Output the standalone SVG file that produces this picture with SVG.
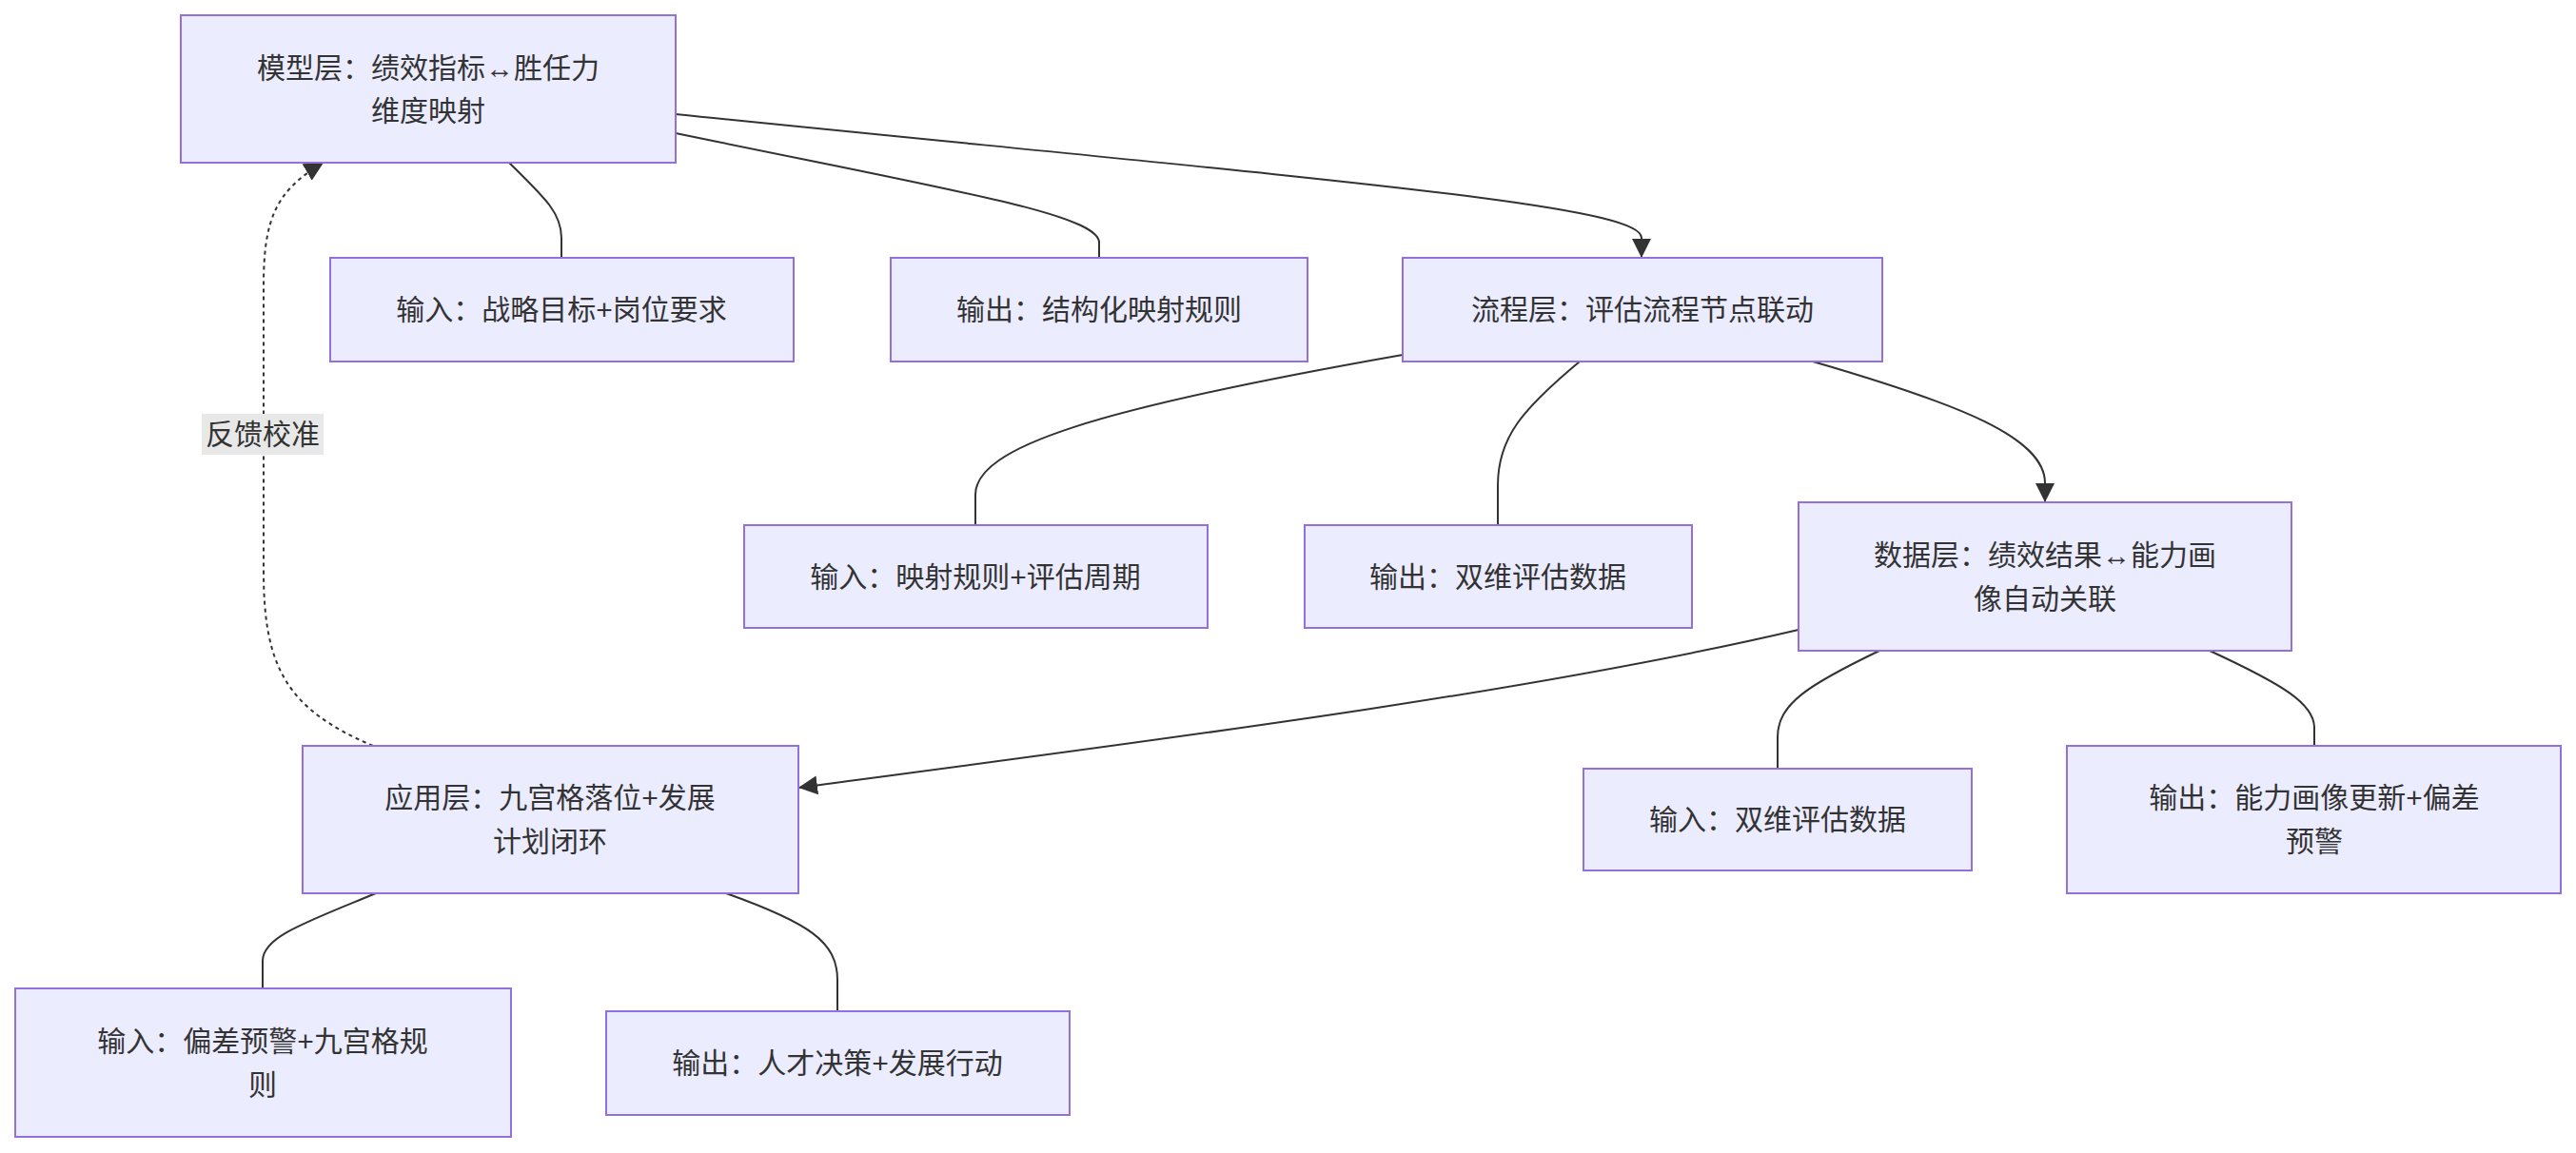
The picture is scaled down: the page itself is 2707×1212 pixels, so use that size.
<svg xmlns="http://www.w3.org/2000/svg" width="2707" height="1212" viewBox="0 0 2707 1212">
<style>
.n rect{fill:#ECECFF;stroke:#9370DB;stroke-width:2}
text{font-family:"Liberation Sans","Noto Sans CJK SC",sans-serif;font-size:30px;fill:#333;text-anchor:middle;dominant-baseline:central}
.e path{fill:none;stroke:#333;stroke-width:2}
.d{stroke-dasharray:4 4}
</style>
<defs><marker id="a" viewBox="0 0 10 10" refX="10" refY="5" markerWidth="9" markerHeight="9" markerUnits="userSpaceOnUse" orient="auto"><path d="M0,0L10,5L0,10z" fill="#333"/></marker>
<marker id="ah" viewBox="0 0 10 10" refX="10" refY="5" markerWidth="20" markerHeight="20" markerUnits="userSpaceOnUse" orient="auto"><path d="M0,0L10,5L0,10z" fill="#333"/></marker></defs>
<rect width="2707" height="1212" fill="#fff"/>
<g class="e" id="edges">
<path d="M535,171 C575,210 590,225 590,250 L590,271"/>
<path d="M710,140 C1000,200 1155,225 1155,255 L1155,271"/>
<path d="M710,120 C1400,190 1725,215 1725,250 L1725,271" marker-end="url(#ah)"/>
<path d="M1474,373 C1150,430 1025,470 1025,520 L1025,552"/>
<path d="M1660,380 C1600,430 1574,460 1574,510 L1574,552"/>
<path d="M1905,380 C2060,425 2149,460 2149,508 L2149,528" marker-end="url(#ah)"/>
<path d="M1890,662 C1600,730 1200,780 839,828" marker-end="url(#ah)"/>
<path d="M1975,684 C1900,720 1868,740 1868,775 L1868,808"/>
<path d="M2322,684 C2400,720 2432,740 2432,765 L2432,784"/>
<path d="M395,939 C320,970 276,985 276,1010 L276,1039"/>
<path d="M763,939 C850,970 880,990 880,1030 L880,1063"/>
<path class="d" d="M392,784 C300,745 277,700 277,600 L277,300 C277,230 290,200 340,171" marker-end="url(#ah)"/>
<rect x="212" y="435" width="128" height="43" fill="#e8e8e8"/>
<text x="276" y="456">反馈校准</text>
</g>
<g class="n" id="model"><rect x="190" y="16" width="520" height="155"/><text x="450" y="71">模型层：绩效指标↔胜任力</text><text x="450" y="116">维度映射</text></g>
<g class="n" id="in1"><rect x="347" y="271" width="487" height="109"/><text x="590" y="325">输入：战略目标+岗位要求</text></g>
<g class="n" id="out1"><rect x="936" y="271" width="438" height="109"/><text x="1155" y="325">输出：结构化映射规则</text></g>
<g class="n" id="process"><rect x="1474" y="271" width="504" height="109"/><text x="1726" y="325">流程层：评估流程节点联动</text></g>
<g class="n" id="in2"><rect x="782" y="552" width="487" height="108"/><text x="1025" y="606">输入：映射规则+评估周期</text></g>
<g class="n" id="out2"><rect x="1371" y="552" width="407" height="108"/><text x="1574" y="606">输出：双维评估数据</text></g>
<g class="n" id="data"><rect x="1890" y="528" width="518" height="156"/><text x="2149" y="583">数据层：绩效结果↔能力画</text><text x="2149" y="629">像自动关联</text></g>
<g class="n" id="in3"><rect x="1664" y="808" width="408" height="107"/><text x="1868" y="861">输入：双维评估数据</text></g>
<g class="n" id="out3"><rect x="2172" y="784" width="519" height="155"/><text x="2432" y="838">输出：能力画像更新+偏差</text><text x="2432" y="884">预警</text></g>
<g class="n" id="app"><rect x="318" y="784" width="521" height="155"/><text x="578" y="838">应用层：九宫格落位+发展</text><text x="578" y="884">计划闭环</text></g>
<g class="n" id="in4"><rect x="16" y="1039" width="521" height="156"/><text x="276" y="1094">输入：偏差预警+九宫格规</text><text x="276" y="1140">则</text></g>
<g class="n" id="out4"><rect x="637" y="1063" width="487" height="109"/><text x="880" y="1117">输出：人才决策+发展行动</text></g>
</svg>
